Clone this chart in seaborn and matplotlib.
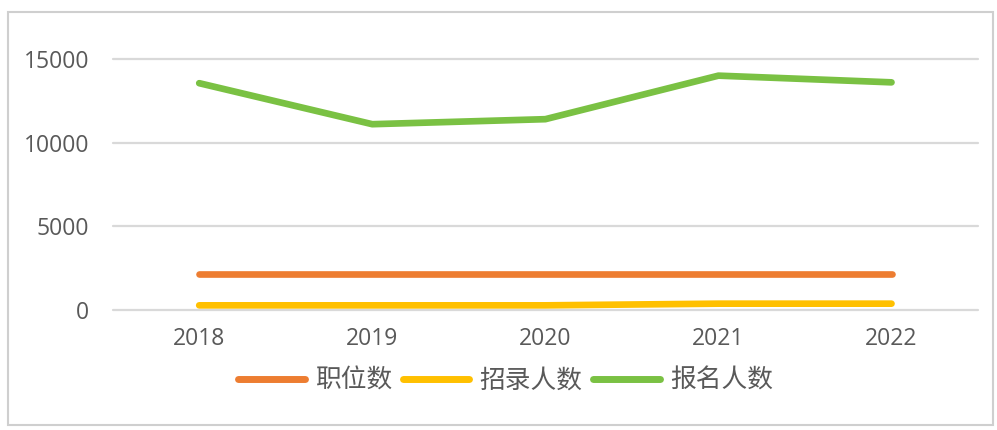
import matplotlib
matplotlib.use("Agg")
import matplotlib.pyplot as plt
import seaborn as sns
import pandas as pd
from matplotlib.lines import Line2D
from matplotlib.patches import Rectangle

years = ["2018", "2019", "2020", "2021", "2022"]
positions = [2150, 2150, 2150, 2150, 2150]
recruits = [280, 280, 280, 380, 380]
applicants = [13550, 11100, 11400, 14000, 13600]
series_names = ["职位数", "招录人数", "报名人数"]
yticks = [0, 5000, 10000, 15000]

colors = ["#ED7D31", "#FFC000", "#7AC143"]
text_color = "#595959"

sns.set_theme(style="white")
plt.rcParams['font.family'] = ['Open Sans', 'Noto Sans CJK SC', 'DejaVu Sans']

df = pd.DataFrame({
    "year": years * 3,
    "value": positions + recruits + applicants,
    "series": [series_names[0]] * 5 + [series_names[1]] * 5 + [series_names[2]] * 5,
})

fig = plt.figure(figsize=(9.97, 4.30), dpi=100)
ax = fig.add_axes([0.113, 0.279, 0.868, 0.584])

for y in yticks:
    ax.axhline(y, color="#D9D9D9", lw=1.6, zorder=0)

sns.lineplot(data=df, x="year", y="value", hue="series", palette=colors,
             lw=4.8, ax=ax, legend=False, solid_capstyle="round", sort=False)

ax.set_xlim(-0.5, 4.5)
ax.set_ylim(0, 15000)
ax.set_yticks(yticks)
ax.set_yticklabels([str(v) for v in yticks], fontsize=16.5, color=text_color)
ax.set_xticks(range(len(years)))
ax.set_xticklabels(years, fontsize=16.5, color=text_color)
ax.tick_params(axis="y", length=0, pad=17)
ax.tick_params(axis="x", length=0, pad=12)
ax.set_xlabel("")
ax.set_ylabel("")
for s in ax.spines.values():
    s.set_visible(False)
for line in ax.lines:
    line.set_clip_on(False)

handles = [Line2D([0], [0], color=c, lw=5, solid_capstyle="round") for c in colors]
leg = fig.legend(handles, series_names, loc="center", bbox_to_anchor=(0.507, 0.114),
                 ncol=3, frameon=False, handlelength=2.6, handletextpad=0.4,
                 columnspacing=0.4, prop={"family": ["Noto Sans CJK SC"], "size": 18.5})
for t in leg.get_texts():
    t.set_color(text_color)

# outer frame of the chart area
fig.patches.append(Rectangle((8 / 997, 1 - 425 / 430), 985 / 997, 413 / 430,
                             transform=fig.transFigure, fill=False,
                             edgecolor="#CFCFCF", lw=1.5))

fig.savefig("out.png", dpi=100, facecolor="white")
